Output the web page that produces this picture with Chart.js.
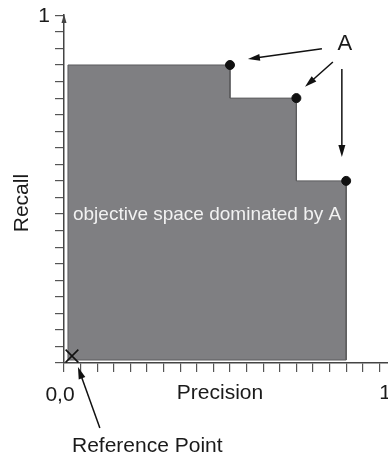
<!DOCTYPE html>
<html lang="en">
<head>
  <meta charset="UTF-8" />
  <title>Objective space dominated by A</title>
  <script src="https://cdn.jsdelivr.net/npm/chart.js"></script>
  <style>
    html, body { margin: 0; padding: 0; background: #ffffff; overflow: hidden; }
    canvas { display: block; }
  </style>
</head>
<body>
  <canvas id="chart" width="388" height="459"></canvas>

  <script>
    // Pareto front A (precision, recall)
    const frontPrecision = [0.50, 0.70, 0.85];
    const frontRecall = [0.90, 0.80, 0.55];

    // reference point, drawn a little off the origin like the picture
    const refPoint = { x: 0.024, y: 0.021 };
    const regionFloor = 0.009;
    const regionLeft = 0.012;

    // arrows [fromX, fromY, toX, toY] in data units
    const arrowsFromA = [
      [0.777, 0.949, 0.554, 0.918],
      [0.810, 0.909, 0.726, 0.834],
      [0.837, 0.888, 0.837, 0.622]
    ];
    const refArrow = [0.108, -0.196, 0.042, -0.012];

    // texts and where they sit (data units)
    const labelText = ['1', '0,0', 'Precision', '1', 'A', 'Reference Point', 'objective space dominated by A'];
    const labelX = [-0.060, -0.012, 0.470, 0.967, 0.846, 0.024, 0.027];
    const labelY = [1.048, -0.097, -0.091, -0.091, 0.964, -0.251, 0.447];
    const labelAlign = ['center', 'center', 'center', 'center', 'center', 'left', 'left'];
    const yTitle = 'Recall';

    // staircase polygon built from the front
    const region = [{ x: regionLeft, y: regionFloor }, { x: regionLeft, y: frontRecall[0] }];
    frontPrecision.forEach((p, i) => {
      region.push({ x: p, y: frontRecall[i] });
      if (i < frontPrecision.length - 1) region.push({ x: p, y: frontRecall[i + 1] });
    });
    region.push({ x: frontPrecision[frontPrecision.length - 1], y: regionFloor });
    region.push({ x: regionLeft, y: regionFloor });

    const FONT = '"Liberation Sans", Arial, sans-serif';

    function arrow(ctx, x1, y1, x2, y2, len, half) {
      const a = Math.atan2(y2 - y1, x2 - x1);
      ctx.beginPath();
      ctx.moveTo(x1, y1);
      ctx.lineTo(x2 - Math.cos(a) * len * 0.6, y2 - Math.sin(a) * len * 0.6);
      ctx.stroke();
      ctx.beginPath();
      ctx.moveTo(x2, y2);
      ctx.lineTo(x2 - Math.cos(a) * len + Math.sin(a) * half, y2 - Math.sin(a) * len - Math.cos(a) * half);
      ctx.lineTo(x2 - Math.cos(a) * len - Math.sin(a) * half, y2 - Math.sin(a) * len + Math.cos(a) * half);
      ctx.closePath();
      ctx.fill();
    }

    const extras = {
      id: 'extras',
      afterDraw(chart) {
        const ctx = chart.ctx;
        const xs = chart.scales.x, ys = chart.scales.y;
        const px = v => xs.getPixelForValue(v);
        const py = v => ys.getPixelForValue(v);
        ctx.save();

        // arrow tip on the y axis
        ctx.fillStyle = '#444';
        ctx.beginPath();
        ctx.moveTo(px(0), chart.chartArea.top - 1);
        ctx.lineTo(px(0) - 2.5, chart.chartArea.top + 8);
        ctx.lineTo(px(0) + 2.5, chart.chartArea.top + 8);
        ctx.closePath();
        ctx.fill();

        ctx.strokeStyle = '#111';
        ctx.fillStyle = '#111';
        ctx.lineWidth = 1.5;
        arrowsFromA.forEach(a => arrow(ctx, px(a[0]), py(a[1]), px(a[2]), py(a[3]), 12, 3.5));
        arrow(ctx, px(refArrow[0]), py(refArrow[1]), px(refArrow[2]), py(refArrow[3]), 12, 3.5);

        ctx.textBaseline = 'middle';
        labelText.forEach((t, i) => {
          ctx.textAlign = labelAlign[i];
          const inside = i === labelText.length - 1;
          ctx.fillStyle = inside ? '#f2f2f2' : '#1a1a1a';
          ctx.font = (t === 'A' ? '22px ' : (inside ? '19px ' : '21px ')) + FONT;
          ctx.fillText(t, px(labelX[i]), py(labelY[i]));
        });

        ctx.translate(22, py(0.483));
        ctx.rotate(-Math.PI / 2);
        ctx.textAlign = 'center';
        ctx.fillStyle = '#1a1a1a';
        ctx.font = '21px ' + FONT;
        ctx.fillText(yTitle, 0, 0);
        ctx.restore();
      }
    };

    new Chart(document.getElementById('chart'), {
      type: 'line',
      data: {
        datasets: [
          {
            label: 'dominated',
            data: region,
            order: 2,
            fill: 'shape',
            backgroundColor: '#7f7f82',
            borderColor: '#5c5c5e',
            borderWidth: 1,
            pointRadius: 0,
            tension: 0
          },
          {
            label: 'A',
            data: frontPrecision.map((p, i) => ({ x: p, y: frontRecall[i] })),
            order: 1,
            showLine: false,
            pointRadius: 4.5,
            backgroundColor: '#111',
            borderColor: '#111'
          },
          {
            label: 'reference',
            data: [refPoint],
            order: 0,
            showLine: false,
            pointStyle: 'crossRot',
            pointRadius: 9,
            borderWidth: 1.6,
            borderColor: '#111'
          }
        ]
      },
      options: {
        responsive: false,
        animation: false,
        layout: { autoPadding: false, padding: { top: 15, left: 0, right: 0, bottom: 0 } },
        plugins: { legend: { display: false }, tooltip: { enabled: false } },
        scales: {
          x: {
            type: 'linear',
            min: 0,
            max: 0.976,
            afterFit(s) { s.height = 96; },
            ticks: { display: false, stepSize: 0.05, includeBounds: false },
            grid: { drawOnChartArea: false, drawTicks: true, tickLength: 9, tickColor: '#555', lineWidth: 1.2 },
            border: { display: true, color: '#444', width: 1.5 }
          },
          y: {
            type: 'linear',
            min: 0,
            max: 1.051,
            afterFit(s) { s.width = 64; },
            ticks: { display: false, stepSize: 0.05, includeBounds: false },
            grid: { drawOnChartArea: false, drawTicks: true, tickLength: 9, tickColor: '#555', lineWidth: 1.2 },
            border: { display: true, color: '#444', width: 1.5 }
          }
        }
      },
      plugins: [extras]
    });
  </script>
</body>
</html>
